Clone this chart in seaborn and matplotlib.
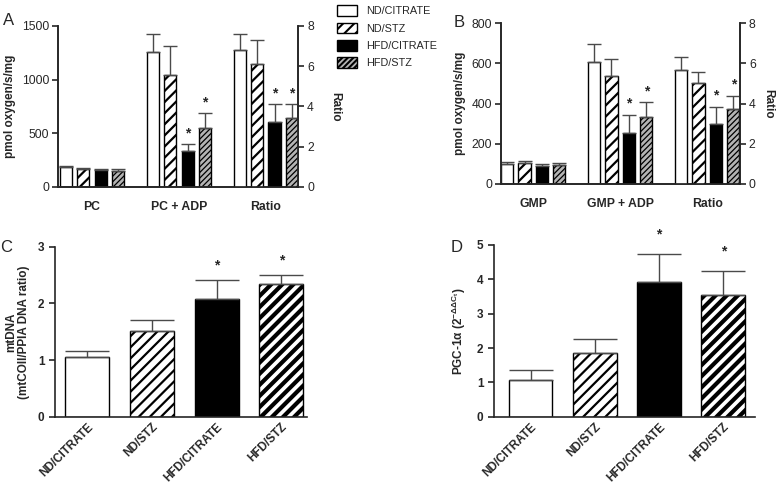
import numpy as np
import pandas as pd
import matplotlib.pyplot as plt
import seaborn as sns
from matplotlib.patches import Patch

groups = ["ND/CITRATE", "ND/STZ", "HFD/CITRATE", "HFD/STZ"]
starred = ["HFD/CITRATE", "HFD/STZ"]

# panel A (pmol oxygen/s/mg on left axis, ratio on right axis)
a_conds = ["PC", "PC + ADP", "Ratio"]
a_pc = [186, 168, 158, 152]
a_pc_err = [13, 12, 9, 11]
a_adp = [1255, 1045, 335, 547]
a_adp_err = [170, 272, 62, 139]
a_ratio = [6.82, 6.11, 3.21, 3.44]
a_ratio_err = [0.80, 1.21, 0.89, 0.66]

# panel B
b_conds = ["GMP", "GMP + ADP", "Ratio"]
b_gmp = [98, 103, 87, 93]
b_gmp_err = [8, 8, 9, 8]
b_adp = [609, 537, 255, 334]
b_adp_err = [88, 85, 89, 72]
b_ratio = [5.69, 5.01, 3.00, 3.71]
b_ratio_err = [0.62, 0.56, 0.83, 0.67]

# panel C: mtDNA
c_vals = [1.06, 1.52, 2.07, 2.34]
c_err = [0.10, 0.19, 0.35, 0.17]

# panel D: PGC-1a expression
d_vals = [1.08, 1.86, 3.91, 3.55]
d_err = [0.27, 0.39, 0.82, 0.70]

fills_top = {"ND/CITRATE": "white", "ND/STZ": "white", "HFD/CITRATE": "black", "HFD/STZ": "#b4b4b4"}
fills_bot = {"ND/CITRATE": "white", "ND/STZ": "white", "HFD/CITRATE": "black", "HFD/STZ": "white"}
hatch_top = {"ND/CITRATE": ("", 1), "ND/STZ": ("///", 1.6), "HFD/CITRATE": ("", 1), "HFD/STZ": ("//////", 0.9)}
hatch_bot = {"ND/CITRATE": ("", 1), "ND/STZ": ("///", 1.6), "HFD/CITRATE": ("", 1), "HFD/STZ": ("///", 3.0)}

sns.set_style("ticks")
plt.rcParams["font.family"] = ["Liberation Sans", "DejaVu Sans"]
plt.rcParams["mathtext.default"] = "regular"
plt.rcParams["hatch.linewidth"] = 1.5
plt.rcParams["axes.linewidth"] = 1.2
plt.rcParams["xtick.major.width"] = 1.2
plt.rcParams["ytick.major.width"] = 1.2

ERR_COLOR = "#4a4a4a"


def make_df(conds, vals, errs):
    rows = []
    for cond, v, e in zip(conds, vals, errs):
        for g, vv, ee in zip(groups, v, e):
            rows.append({"cond": cond, "group": g, "val": vv, "err": ee})
    return pd.DataFrame(rows)


def style_and_errors(ax, df, order, hatches, capsize, star_off):
    lookup = {(r.cond, r.group): r.err for r in df.itertuples()}
    bar_sets = list(zip(groups, list(ax.containers)))
    for g, cont in bar_sets:
        h, lw = hatches[g]
        for bar in cont:
            if np.isnan(bar.get_height()):
                continue
            bar.set_hatch(h)
            if hasattr(bar, "set_hatch_linewidth"):
                bar.set_hatch_linewidth(lw)
            xc = bar.get_x() + bar.get_width() / 2
            cond = g if order is None else order[int(round(xc))]
            if (cond, g) not in lookup:
                continue
            top = bar.get_height()
            err = lookup[(cond, g)]
            ax.errorbar(xc, top, yerr=[[0], [err]], fmt="none", ecolor=ERR_COLOR,
                        elinewidth=1, capsize=capsize, capthick=1, zorder=1)
            first_cond = order is not None and cond == order[0]
            if g in starred and not first_cond:
                ax.annotate("*", (xc, top + err), xytext=(0, star_off), textcoords="offset points",
                            ha="center", va="center", fontsize=10, fontweight="bold",
                            annotation_clip=False)


def grouped_panel(ax, conds, first, first_err, second, second_err, ratio, ratio_err,
                  ylim, yticks, xlim):
    df_left = make_df(conds[:2], [first, second], [first_err, second_err])
    df_right = make_df(conds[2:], [ratio], [ratio_err])
    kw = dict(x="cond", y="val", hue="group", order=conds, hue_order=groups,
              palette=fills_top, edgecolor="black", linewidth=1, width=0.8, gap=0.3,
              errorbar=None, legend=False)
    sns.barplot(data=df_left, ax=ax, **kw)
    ax2 = ax.twinx()
    sns.barplot(data=df_right, ax=ax2, **kw)
    style_and_errors(ax, df_left, conds, hatch_top, 5, 8)
    style_and_errors(ax2, df_right, conds, hatch_top, 5, 8)
    ax.set_ylim(*ylim)
    ax.set_yticks(yticks)
    ax2.set_ylim(0, 8)
    ax2.set_yticks([0, 2, 4, 6, 8])
    ax.set_xlim(*xlim)
    ax2.set_xlim(*xlim)
    for a in (ax, ax2):
        a.spines["top"].set_visible(False)
        a.set_xlabel("")
        a.tick_params(axis="y", labelsize=8.7, length=4, direction="out", pad=2.5)
        a.tick_params(axis="x", length=0, pad=10)
    ax.set_xticks(range(3))
    ax.set_xticklabels(conds, fontsize=8.8, fontweight="bold")
    ax.set_ylabel("pmol oxygen/s/mg", fontsize=8.5, fontweight="bold")
    ax2.set_ylabel("Ratio", fontsize=8.5, fontweight="bold", rotation=-90)
    return ax2


def single_panel(ax, vals, errs, ylim, yticks, xlim, capsize, star_off):
    df = pd.DataFrame({"group": groups, "val": vals, "err": errs, "cond": groups})
    sns.barplot(data=df, x="group", y="val", hue="group", order=groups, hue_order=groups,
                palette=fills_bot, edgecolor="black", linewidth=1, width=0.68,
                errorbar=None, legend=False, ax=ax)
    style_and_errors(ax, df, None, hatch_bot, capsize, star_off)
    ax.set_ylim(*ylim)
    ax.set_yticks(yticks)
    ax.set_xlim(*xlim)
    ax.spines["top"].set_visible(False)
    ax.spines["right"].set_visible(False)
    ax.set_xlabel("")
    ax.tick_params(axis="y", labelsize=8.5, length=4, direction="out")
    ax.tick_params(axis="x", length=0, pad=3)
    for lab in ax.get_yticklabels():
        lab.set_fontweight("bold")
    ax.set_xticks(range(4))
    ax.set_xticklabels(groups, rotation=45, ha="right", va="top", rotation_mode="anchor",
                       fontsize=8.5, fontweight="bold")


fig = plt.figure(figsize=(7.78, 4.88), dpi=100)
ax_a = fig.add_axes([0.0746, 0.617, 0.3085, 0.330])
ax_b = fig.add_axes([0.644, 0.6236, 0.307, 0.3286])
ax_c = fig.add_axes([0.0707, 0.1455, 0.324, 0.349])
ax_d = fig.add_axes([0.635, 0.146, 0.335, 0.352])

a2 = grouped_panel(ax_a, a_conds, a_pc, a_pc_err, a_adp, a_adp_err, a_ratio, a_ratio_err,
                   (0, 1500), [0, 500, 1000, 1500], (-0.39, 2.37))
b2 = grouped_panel(ax_b, b_conds, b_gmp, b_gmp_err, b_adp, b_adp_err, b_ratio, b_ratio_err,
                   (0, 800), [0, 200, 400, 600, 800], (-0.37, 2.376))
ax_a.yaxis.set_label_coords(-0.175, 0.5)
a2.yaxis.set_label_coords(1.18, 0.5)
ax_b.yaxis.set_label_coords(-0.145, 0.5)
b2.yaxis.set_label_coords(1.145, 0.5)

single_panel(ax_c, c_vals, c_err, (0, 3), [0, 1, 2, 3], (-0.5, 3.4), 16, 10)
single_panel(ax_d, d_vals, d_err, (0, 5), [0, 1, 2, 3, 4, 5], (-0.57, 3.49), 16, 14)
ax_c.set_ylabel("mtDNA\n(mtCOII/PPIA DNA ratio)", fontsize=8.5, fontweight="bold",
                linespacing=1.05)
ax_c.yaxis.set_label_coords(-0.1, 0.5)
ax_d.set_ylabel(r"PGC-1$\alpha$ (2$^{-\Delta\Delta C_t}$)", fontsize=8.5, fontweight="bold")
ax_d.yaxis.set_label_coords(-0.10, 0.5)

for letter, x, y in [("A", 3, 13), ("B", 454, 15), ("C", 0, 240), ("D", 451, 240)]:
    fig.text(x / 778, 1 - y / 488, letter, fontsize=12, ha="left", va="top")

handles = []
for g in groups:
    h, lw = hatch_top[g]
    handles.append(Patch(facecolor=fills_top[g], edgecolor="black", hatch=h, linewidth=1))
fig.legend(handles, groups, loc="upper left", bbox_to_anchor=(333 / 778, 1 - 1 / 488),
           frameon=False, fontsize=7.8, handlelength=1.8, handleheight=1.1,
           labelspacing=0.6, handletextpad=0.85, borderaxespad=0)

fig.savefig("out.png", dpi=100)
plt.close(fig)
